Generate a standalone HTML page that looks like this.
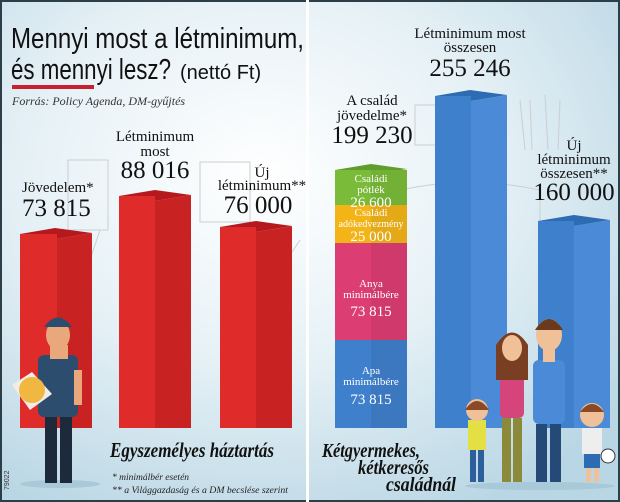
<!DOCTYPE html>
<html><head><meta charset="utf-8"><style>
html,body{margin:0;padding:0;width:620px;height:502px;overflow:hidden}
svg{display:block}
text{font-family:"Liberation Serif",serif}
</style></head><body>
<svg width="620" height="502" viewBox="0 0 620 502" xmlns="http://www.w3.org/2000/svg">
<defs>
<radialGradient id="bg" cx="0.42" cy="0.35" r="0.75">
<stop offset="0" stop-color="#ffffff"/><stop offset="0.5" stop-color="#e6f1f6"/><stop offset="1" stop-color="#b9d6e4"/>
</radialGradient>
</defs>
<rect width="620" height="502" fill="url(#bg)"/>
<rect x="1" y="1" width="618" height="500" fill="none" stroke="#2c3e48" stroke-width="2"/>
<rect x="306" y="0" width="3" height="502" fill="#fff"/>
<g stroke="#c9cfd3" fill="none" stroke-width="1">
<rect x="68" y="160" width="40" height="70"/><rect x="200" y="162" width="50" height="60"/>
<path d="M80 290 L100 230 M230 280 L250 225 M280 270 L300 240"/>
<rect x="415" y="105" width="30" height="40"/><path d="M400 190 Q470 175 540 190 L540 230"/>
<path d="M520 100 L525 150 M530 100 L532 150 M545 95 L548 150 M560 100 L558 150"/>
</g>
<text x="11" y="48" font-size="29" fill="#111" textLength="293" lengthAdjust="spacingAndGlyphs" style="font-family:'Liberation Sans Narrow','Liberation Sans',sans-serif">Mennyi most a létminimum,</text>
<text x="11" y="79" font-size="29" fill="#111" textLength="160" lengthAdjust="spacingAndGlyphs" style="font-family:'Liberation Sans Narrow','Liberation Sans',sans-serif">és mennyi lesz?</text>
<text x="180" y="79" font-size="20" fill="#111" style="font-family:'Liberation Sans Narrow','Liberation Sans',sans-serif">(nettó Ft)</text>
<rect x="12" y="85" width="82" height="4" fill="#c8202e"/>
<text x="12" y="105" font-size="12" font-style="italic" fill="#333">Forrás: Policy Agenda, DM-gyűjtés</text>
<g>
<polygon points="20,234 55,228 92,233 57,239" fill="#b5191e"/>
<rect x="20" y="234" width="37" height="194" fill="#e02b2b"/><polygon points="57,239 92,233 92,428 57,428" fill="#c92222"/>
<polygon points="119,196 155,190 191,195 155,201" fill="#b5191e"/>
<rect x="119" y="196" width="36" height="232" fill="#e02b2b"/><polygon points="155,201 191,195 191,428 155,428" fill="#c92222"/>
<polygon points="220,227 256,221 292,226 256,232" fill="#b5191e"/>
<rect x="220" y="227" width="36" height="201" fill="#e02b2b"/><polygon points="256,232 292,226 292,428 256,428" fill="#c92222"/>
</g>
<g fill="#111" font-size="15">
<text x="22" y="192">Jövedelem*</text>
<text x="22" y="216" font-size="25">73 815</text>
<text x="155" y="141" text-anchor="middle">Létminimum</text>
<text x="155" y="156" text-anchor="middle">most</text>
<text x="155" y="178" text-anchor="middle" font-size="25">88 016</text>
<text x="262" y="177" text-anchor="middle">Új</text>
<text x="262" y="190" text-anchor="middle">létminimum**</text>
<text x="258" y="213" text-anchor="middle" font-size="25">76 000</text>
</g>
<g>
<polygon points="335,170 371,164 407,169 371,175" fill="#5f9e2a"/>
<rect x="335" y="170" width="72" height="40" fill="#7bbb3a"/>
<rect x="335" y="205" width="72" height="40" fill="#f3b418"/>
<rect x="335" y="243" width="72" height="100" fill="#dc3d73"/>
<rect x="335" y="340" width="72" height="88" fill="#3f80cc"/>
<rect x="371" y="170" width="36" height="258" fill="#000" opacity="0.06"/>
</g>
<g fill="#fff" text-anchor="middle" font-size="11">
<text x="371" y="182">Családi</text><text x="371" y="193">pótlék</text>
<text x="371" y="207" font-size="15">26 600</text>
<text x="371" y="216">Családi</text><text x="371" y="227" font-size="10">adókedvezmény</text>
<text x="371" y="241" font-size="15">25 000</text>
<text x="371" y="287">Anya</text><text x="371" y="298">minimálbére</text>
<text x="371" y="316" font-size="15">73 815</text>
<text x="371" y="374">Apa</text><text x="371" y="385">minimálbére</text>
<text x="371" y="404" font-size="15">73 815</text>
</g>
<polygon points="435,96 470,90 507,95 471,101" fill="#2d6bb3"/>
<rect x="435" y="96" width="36" height="332" fill="#3f80cc"/><polygon points="471,101 507,95 507,428 471,428" fill="#4a8ad6"/>
<polygon points="538,221 574,215 610,220 574,226" fill="#2d6bb3"/>
<rect x="538" y="221" width="36" height="207" fill="#3f80cc"/><polygon points="574,226 610,220 610,428 574,428" fill="#4a8ad6"/>
<g fill="#111" font-size="15" text-anchor="middle">
<text x="470" y="38">Létminimum most</text>
<text x="470" y="52">összesen</text>
<text x="470" y="76" font-size="25">255 246</text>
<text x="372" y="105">A család</text>
<text x="372" y="120">jövedelme*</text>
<text x="372" y="143" font-size="25">199 230</text>
<text x="574" y="150">Új</text>
<text x="574" y="164">létminimum</text>
<text x="574" y="178">összesen**</text>
<text x="574" y="200" font-size="25">160 000</text>
</g>
<g>
<ellipse cx="60" cy="484" rx="40" ry="4" fill="#a9c8d8"/>
<rect x="45" y="415" width="12" height="68" fill="#1d2a3c"/><rect x="60" y="415" width="12" height="68" fill="#1d2a3c"/>
<rect x="38" y="355" width="40" height="62" rx="6" fill="#2c4d6e"/>
<rect x="50" y="345" width="18" height="14" fill="#e8a87c"/>
<ellipse cx="58" cy="335" rx="12" ry="15" fill="#e8a87c"/>
<path d="M44 327 Q58 308 72 327 Z" fill="#2c4d6e"/>
<polygon points="12,385 32,372 52,394 30,410" fill="#f1ede6"/>
<circle cx="32" cy="390" r="13" fill="#f0b840"/>
<rect x="74" y="370" width="8" height="35" fill="#e8a87c"/>
</g>
<g>
<ellipse cx="540" cy="486" rx="75" ry="4" fill="#a9c8d8"/>
<rect x="468" y="420" width="18" height="30" fill="#e4e043"/><rect x="470" y="450" width="6" height="32" fill="#2d5f9a"/><rect x="478" y="450" width="6" height="32" fill="#2d5f9a"/>
<circle cx="477" cy="410" r="11" fill="#f0c098"/><path d="M465 410 Q477 392 489 410" fill="#8a4a2a"/>
<rect x="500" y="370" width="24" height="48" rx="5" fill="#d6447c"/><rect x="502" y="418" width="9" height="64" fill="#8a8a3a"/><rect x="513" y="418" width="9" height="64" fill="#8a8a3a"/>
<path d="M496 345 Q512 320 528 345 L528 380 L496 380 Z" fill="#7a3e22"/>
<ellipse cx="512" cy="348" rx="10" ry="13" fill="#f0c098"/>
<rect x="533" y="360" width="32" height="64" rx="6" fill="#4a8ad6"/><rect x="536" y="424" width="11" height="58" fill="#254a78"/><rect x="550" y="424" width="11" height="58" fill="#254a78"/>
<rect x="543" y="346" width="12" height="16" fill="#f0c098"/>
<ellipse cx="549" cy="335" rx="13" ry="16" fill="#f0c098"/><path d="M535 330 Q549 308 563 330 Z" fill="#6a3a1e"/>
<rect x="582" y="428" width="20" height="26" fill="#eee"/><rect x="584" y="454" width="16" height="14" fill="#2d6bb3"/><rect x="586" y="468" width="5" height="14" fill="#f0c098"/><rect x="594" y="468" width="5" height="14" fill="#f0c098"/>
<circle cx="592" cy="415" r="12" fill="#f0c098"/><path d="M580 412 Q592 396 604 412" fill="#8a4a2a"/>
<circle cx="608" cy="456" r="7" fill="#fff" stroke="#333"/>
</g>
<text x="110" y="457" font-size="21" font-style="italic" font-weight="bold" fill="#111" textLength="164" lengthAdjust="spacingAndGlyphs">Egyszemélyes háztartás</text>
<text x="112" y="480" font-size="9.5" font-style="italic" fill="#222">* minimálbér esetén</text>
<text x="112" y="493" font-size="9.5" font-style="italic" fill="#222" textLength="176" lengthAdjust="spacingAndGlyphs">** a Világgazdaság és a DM becslése szerint</text>
<g font-size="20" font-style="italic" font-weight="bold" fill="#111">
<text x="322" y="457" textLength="98" lengthAdjust="spacingAndGlyphs">Kétgyermekes,</text>
<text x="358" y="474" textLength="71" lengthAdjust="spacingAndGlyphs">kétkeresős</text>
<text x="386" y="491" textLength="70" lengthAdjust="spacingAndGlyphs">családnál</text>
</g>
<text x="9" y="490" font-size="7" fill="#333" transform="rotate(-90 9 490)" style="font-family:'Liberation Sans',sans-serif">79022</text>
</svg>
</body></html>
